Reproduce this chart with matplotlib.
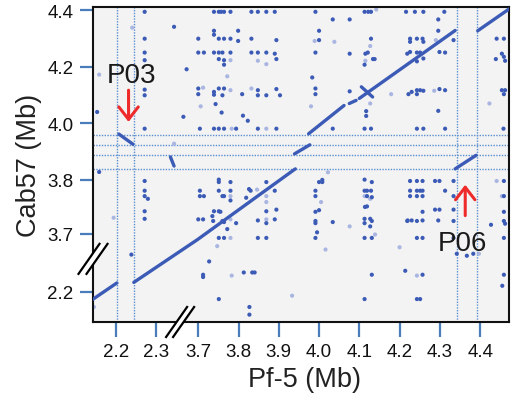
import numpy as np
import matplotlib
matplotlib.use("Agg")
import matplotlib.pyplot as plt
from matplotlib.patches import Polygon

# ---- data (Mb) ----------------------------------------------------------
x_ticks = [2.2, 2.3, 3.7, 3.8, 3.9, 4.0, 4.1, 4.2, 4.3, 4.4]
y_ticks = [2.2, 3.7, 3.8, 4.0, 4.2, 4.4]

# collinear alignment runs (Pf-5, Cab57)
runs = [
    [(2.140, 2.170), (2.203, 2.231)],
    [(2.245, 2.233), (3.698, 3.680), (3.941, 3.839)],
    [(3.939, 3.892), (3.977, 3.924)],
    [(3.974, 3.963), (4.062, 4.063)],
    [(4.075, 4.070), (4.092, 4.081)],
    [(4.100, 4.088), (4.338, 4.328)],
    [(4.394, 4.327), (4.480, 4.412)],
    [(2.336, 3.881), (2.345, 3.849)],
    [(4.105, 4.129), (4.133, 4.093)],
]
p03_run = [(2.208, 3.962), (2.243, 3.926)]
p06_run = [(4.338, 3.839), (4.390, 3.887)]

# borders of the two islands
island_x = [2.203, 2.245, 4.342, 4.392]
island_y = [3.958, 3.923, 3.889, 3.839]

hits = [
    (2.272, 4.394), (2.345, 4.341), (2.272, 4.299), (2.272, 4.250), (2.272, 4.223),
    (3.671, 4.191), (2.154, 4.040), (3.663, 4.023), (2.272, 4.119), (2.272, 4.099),
    (2.272, 3.981),
    (3.739, 4.394), (3.751, 4.394), (3.757, 4.394), (3.764, 4.394), (3.780, 4.394),
    (3.832, 4.394), (3.848, 4.394), (3.869, 4.394), (3.890, 4.394), (3.991, 4.394),
    (4.113, 4.394), (4.122, 4.394), (4.129, 4.394), (4.216, 4.394), (4.238, 4.394),
    (4.259, 4.394), (4.311, 4.394),
    (4.034, 4.367), (4.076, 4.367), (4.296, 4.367), (3.739, 4.327), (3.799, 4.327),
    (4.000, 4.327), (4.296, 4.327), (3.739, 4.313),
    (3.700, 4.299), (3.751, 4.299), (3.764, 4.299), (3.780, 4.299), (3.832, 4.299),
    (4.129, 4.299), (4.226, 4.299), (4.243, 4.299), (4.257, 4.299), (4.441, 4.299),
    (4.459, 4.299), (3.799, 4.291), (3.894, 4.294), (4.000, 4.294), (4.334, 4.294),
    (4.226, 4.288), (4.259, 4.288),
    (3.700, 4.250), (3.714, 4.250), (3.739, 4.250), (3.751, 4.250), (3.760, 4.250),
    (3.780, 4.250), (3.832, 4.250), (3.848, 4.250), (3.869, 4.250), (3.890, 4.246),
    (3.991, 4.250), (4.076, 4.246), (4.115, 4.246), (4.121, 4.250), (4.219, 4.246),
    (4.226, 4.252), (4.243, 4.250), (4.251, 4.250), (4.299, 4.252), (4.313, 4.250),
    (4.454, 4.246),
    (3.751, 4.227), (3.764, 4.223), (3.894, 4.227), (3.764, 4.207), (4.134, 4.227),
    (4.138, 4.227), (4.113, 4.207), (4.259, 4.229), (4.243, 4.219), (4.459, 4.235),
    (4.462, 4.221), (4.439, 4.227), (3.983, 4.162),
    (3.700, 4.123), (3.700, 4.103), (3.739, 4.111), (3.739, 4.101), (3.751, 4.123),
    (3.764, 4.123), (3.760, 4.099), (3.809, 4.103), (3.848, 4.117), (3.848, 4.099),
    (3.869, 4.099), (3.894, 4.121), (3.903, 4.099), (3.991, 4.123), (3.991, 4.103),
    (4.076, 4.113), (4.222, 4.103), (4.230, 4.111), (4.243, 4.117), (4.243, 4.103),
    (4.251, 4.117), (4.259, 4.115), (4.299, 4.121), (4.313, 4.117), (4.454, 4.117),
    (4.459, 4.103), (4.462, 4.117),
    (3.743, 4.068), (3.758, 4.038), (3.811, 4.027), (3.823, 4.009), (4.117, 4.043),
    (4.117, 4.026), (4.296, 4.044),
    (3.704, 3.981), (3.739, 3.981), (3.751, 3.981), (3.764, 3.981), (3.794, 3.981),
    (3.848, 3.981), (3.894, 3.981), (4.034, 3.981), (4.113, 3.981), (4.129, 3.981),
    (4.243, 3.981), (4.259, 3.981), (4.313, 3.981), (4.458, 3.981),
    (2.159, 3.828), (2.272, 3.798), (2.272, 3.780), (2.272, 3.770), (2.280, 3.765),
    (2.272, 3.742), (2.272, 3.728), (2.239, 3.627),
    (3.751, 3.801), (3.751, 3.796), (3.780, 3.796), (3.704, 3.780), (3.751, 3.780),
    (3.780, 3.780), (3.704, 3.770), (3.714, 3.770), (3.760, 3.770), (3.764, 3.770),
    (3.780, 3.762), (3.826, 3.783), (3.830, 3.780), (3.869, 3.796), (3.890, 3.780),
    (3.819, 3.767),
    (3.739, 3.742), (3.751, 3.742), (3.755, 3.741), (3.700, 3.727), (3.712, 3.727),
    (3.735, 3.733), (3.737, 3.724), (3.760, 3.724), (3.764, 3.722), (3.794, 3.720),
    (3.772, 3.709), (3.848, 3.725), (3.869, 3.742), (3.869, 3.720), (3.894, 3.745),
    (3.890, 3.727),
    (3.751, 3.686), (3.764, 3.686), (3.848, 3.686), (3.869, 3.686),
    (4.000, 3.796), (4.008, 3.800), (4.008, 3.796), (3.991, 3.780), (3.991, 3.770),
    (3.991, 3.741), (4.000, 3.744), (3.991, 3.724), (3.991, 3.720), (4.034, 3.722),
    (3.995, 3.703), (3.991, 3.686),
    (4.113, 3.801), (4.131, 3.796), (4.113, 3.780), (4.119, 3.780), (4.129, 3.780),
    (4.119, 3.770), (4.131, 3.768), (4.114, 3.750), (4.119, 3.751), (4.113, 3.728),
    (4.113, 3.720), (4.127, 3.728), (4.131, 3.724), (4.127, 3.714), (4.113, 3.686),
    (4.131, 3.686), (4.219, 3.724),
    (4.226, 3.798), (4.243, 3.798), (4.257, 3.798), (4.288, 3.798), (4.299, 3.798),
    (4.334, 3.798), (4.459, 3.798),
    (4.226, 3.780), (4.243, 3.780), (4.251, 3.780), (4.257, 3.780), (4.313, 3.780),
    (4.226, 3.770), (4.243, 3.770), (4.257, 3.770), (4.334, 3.770), (4.459, 3.770),
    (4.288, 3.745), (4.299, 3.745), (4.334, 3.745), (4.257, 3.741), (4.459, 3.741),
    (4.220, 3.725), (4.230, 3.725), (4.257, 3.725), (4.296, 3.725), (4.243, 3.724),
    (4.334, 3.724), (4.459, 3.724), (4.427, 3.717), (4.462, 3.719),
    (4.243, 3.686), (4.257, 3.686), (4.334, 3.686), (4.459, 3.686),
    (4.342, 3.630), (4.367, 3.623), (4.383, 3.630),
    (3.727, 2.307), (3.712, 2.260), (3.712, 2.252), (3.813, 2.268), (3.834, 2.268),
    (3.840, 2.268), (3.751, 2.174), (3.827, 2.146), (3.827, 2.119),
    (4.131, 2.260), (4.214, 2.274), (4.113, 2.174), (4.257, 2.260), (4.459, 2.260),
    (4.455, 2.221), (4.243, 2.174), (4.251, 2.174),
]

weak_hits = [
    (2.241, 4.338), (2.159, 4.172), (2.345, 3.928), (4.142, 4.402), (3.989, 4.291),
    (4.038, 4.288), (4.127, 4.273), (4.290, 4.294), (3.848, 4.221), (3.780, 4.223),
    (3.869, 4.209), (4.115, 4.221), (3.772, 4.166), (3.712, 4.126), (3.780, 4.117),
    (3.832, 4.123), (4.179, 4.103), (4.286, 4.115), (3.706, 4.060), (3.980, 4.060),
    (4.127, 4.070), (4.423, 4.070), (3.783, 3.981), (3.869, 3.981), (2.195, 3.730),
    (2.146, 2.146), (3.780, 3.770), (3.846, 3.782), (3.869, 3.770), (3.869, 3.759),
    (3.780, 3.727), (3.869, 3.727), (3.780, 3.686), (3.747, 3.657), (3.783, 2.257),
    (3.933, 2.186), (4.022, 3.827), (4.005, 3.759), (4.076, 3.714), (4.016, 3.645),
    (4.113, 3.770), (4.127, 3.765), (4.139, 3.698), (4.200, 3.653), (4.441, 3.798),
    (4.454, 3.770), (4.397, 3.630), (4.243, 2.257),
]

# labels: (text, text position, arrow tail, arrow tip)
callouts = [
    ("P03", (2.239, 4.146), (2.232, 4.117), (2.232, 4.005)),
    ("P06", (4.356, 3.642), (4.363, 3.734), (4.363, 3.791)),
]

# ---- broken axes ------------------------------------------------------
x_knots, x_gain = [1.0, 2.36, 3.655, 6.0], [1, 1e-4, 1]
y_knots, y_gain = [1.0, 2.316, 3.612, 3.7, 3.8, 6.0], [1, 1e-4, 1, 1.91, 1]


def piecewise(knots, gains):
    knots = np.asarray(knots, float)
    units = np.concatenate([[0.0], np.cumsum(np.diff(knots) * gains)])
    return (lambda v: np.interp(v, knots, units),
            lambda u: np.interp(u, units, knots))


blue = "#3c5bb6"
weak = "#aab6e2"
tick_blue = "#4a7ebb"
red = "#ee2a2a"

plt.rcParams["font.family"] = ["Liberation Sans", "DejaVu Sans"]

fig = plt.figure(figsize=(5.15, 4.02), dpi=100)
ax = fig.add_axes([93 / 515, 79 / 402, 416 / 515, 315 / 402])
ax.set_xscale("function", functions=piecewise(x_knots, x_gain))
ax.set_yscale("function", functions=piecewise(y_knots, y_gain))
ax.set_xlim(2.1437, 4.4717)
ax.set_ylim(2.093, 4.411)
ax.set_facecolor("#f3f3f3")

for v in island_x:
    ax.axvline(v, color="#5b8fd0", lw=1.0, ls=(0, (1, 1)), zorder=1)
for v in island_y:
    ax.axhline(v, color="#5b8fd0", lw=1.0, ls=(0, (1, 1)), zorder=1)

hx, hy = zip(*weak_hits)
ax.scatter(hx, hy, s=9, color=weak, edgecolors="none", zorder=2)
hx, hy = zip(*hits)
ax.scatter(hx, hy, s=9, color=blue, edgecolors="none", zorder=2)

for run in runs + [p03_run, p06_run]:
    rx, ry = zip(*run)
    ax.plot(rx, ry, color=blue, lw=2.4, solid_capstyle="round", zorder=3)

for text, pos, tail, tip in callouts:
    ax.text(*pos, text, fontsize=20, ha="center", va="baseline", color="#1a1a1a", zorder=5)
    ax.annotate("", xy=tip, xytext=tail,
                arrowprops=dict(arrowstyle="->,head_length=0.9,head_width=0.7",
                                color=red, lw=2.2, shrinkA=0, shrinkB=0))

ax.set_xticks(x_ticks)
ax.set_xticklabels([f"{v:.1f}" for v in x_ticks])
ax.set_yticks(y_ticks)
ax.set_yticklabels([f"{v:.1f}" for v in y_ticks])
ax.tick_params(direction="out", length=9.5, width=1.6, color=tick_blue,
               labelsize=13.5, pad=4.5, labelcolor="#111111")
ax.tick_params(axis="x", length=10.5)
for s in ax.spines.values():
    s.set_linewidth(1.5)
    s.set_color("#111111")

ax.set_xlabel("Pf-5 (Mb)", fontsize=19.5, color="#222222")
ax.set_ylabel("Cab57 (Mb)", fontsize=19.5, color="#222222")
ax.xaxis.set_label_coords(0.508, -0.14)
ax.yaxis.set_label_coords(-0.122, 0.5)

# break marks "//" on both axes
bb = ax.get_window_extent()
to_ax = ax.transAxes.inverted()
bx = to_ax.transform(ax.transData.transform((x_knots[1], 3.0)))[0]
by = to_ax.transform(ax.transData.transform((3.0, y_knots[1])))[1]


def break_mark(cx, cy, gap_px):
    dx, dy = 10.5 / bb.width, 15 / bb.height
    ox = gap_px / 2 / bb.width
    a = [(cx - ox - dx, cy - dy), (cx - ox + dx, cy + dy)]
    b = [(cx + ox - dx, cy - dy), (cx + ox + dx, cy + dy)]
    ax.add_patch(Polygon([a[0], a[1], b[1], b[0]], closed=True, fc="white", ec="none",
                         transform=ax.transAxes, clip_on=False, zorder=6))
    for seg in (a, b):
        sx, sy = zip(*seg)
        ax.plot(sx, sy, color="black", lw=1.6, transform=ax.transAxes,
                clip_on=False, zorder=7)


break_mark(bx, 0.0, 7)
break_mark(0.0, by, 8)

fig.savefig("out.png", dpi=100)
